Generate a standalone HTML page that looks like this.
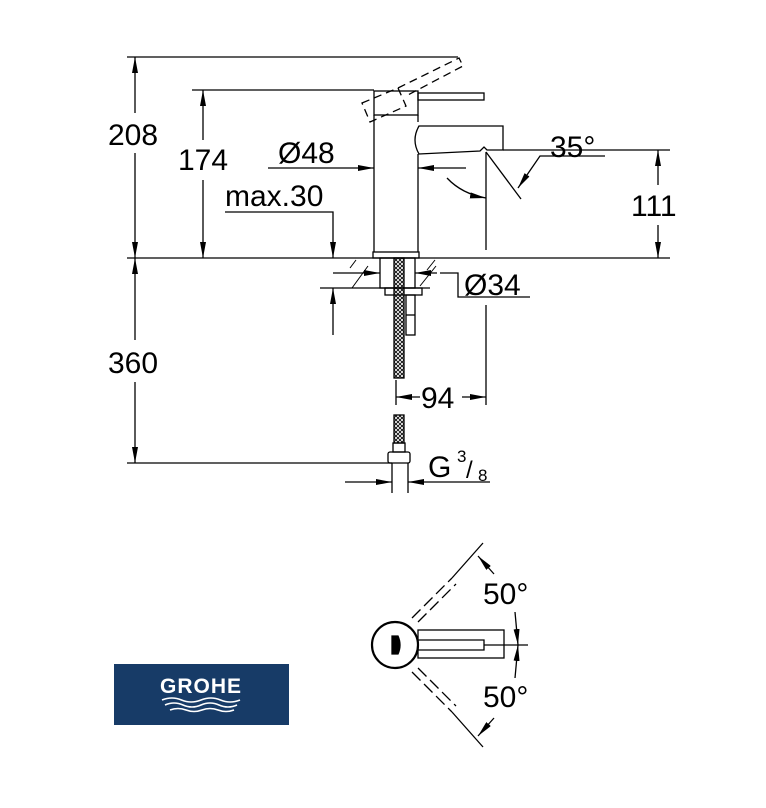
<!DOCTYPE html>
<html><head><meta charset="utf-8"><style>
html,body{margin:0;padding:0;background:#fff;}
svg{display:block;}
text{font-family:"Liberation Sans",sans-serif;fill:#000;}
</style></head><body>
<svg width="766" height="808" viewBox="0 0 766 808" xmlns="http://www.w3.org/2000/svg">
<defs>
<marker id="a" viewBox="0 0 16 6" refX="16" refY="3" markerWidth="16" markerHeight="6" markerUnits="userSpaceOnUse" orient="auto-start-reverse"><path d="M0,0 L16,3 L0,6 z" fill="#000"/></marker>
<pattern id="x" width="4" height="4" patternUnits="userSpaceOnUse"><path d="M0,0L4,4M4,0L0,4" stroke="#000" stroke-width="0.8"/></pattern>
</defs>
<g stroke="#000" stroke-width="1.3" fill="none">
<line x1="127" y1="57" x2="458" y2="57"/>
<line x1="192" y1="90" x2="374" y2="90"/>
<line x1="127" y1="258" x2="670" y2="258"/>
<line x1="127" y1="463" x2="392" y2="463"/>
<line x1="320" y1="288" x2="430" y2="288"/>
<line x1="135" y1="57" x2="135" y2="113" marker-start="url(#a)"/>
<line x1="135" y1="153" x2="135" y2="258" marker-end="url(#a)"/>
<line x1="203" y1="90" x2="203" y2="140" marker-start="url(#a)"/>
<line x1="203" y1="180" x2="203" y2="258" marker-end="url(#a)"/>
<line x1="135" y1="258" x2="135" y2="340" marker-start="url(#a)"/>
<line x1="135" y1="382" x2="135" y2="463" marker-end="url(#a)"/>
<polyline points="225,212 333,212 333,258" marker-end="url(#a)"/>
<line x1="333" y1="335" x2="333" y2="288" marker-end="url(#a)"/>
<line x1="268" y1="168" x2="374" y2="168" marker-end="url(#a)"/>
<line x1="466" y1="168" x2="418" y2="168" marker-end="url(#a)"/>
<rect x="374" y="91" width="44" height="24"/>
<rect x="418" y="93" width="66" height="7"/>
<line x1="374" y1="115" x2="374" y2="252"/>
<line x1="418" y1="115" x2="418" y2="122"/>
<line x1="418" y1="154" x2="418" y2="252"/>
<rect x="373" y="252" width="46" height="6"/>
<path d="M419,126 L503,126 L503,150 L487,150 L484,147 L480,151 L419,154 Q411,140 419,126 Z"/>
<g stroke-dasharray="8,5">
<path d="M362,103 L398,88 L406,106 L370,122 Z"/>
<path d="M398,88 L459,58 L463,66 L406,96"/>
</g>
<line x1="486" y1="152" x2="486" y2="250"/>
<line x1="503" y1="150" x2="670" y2="150"/>
<line x1="486" y1="152" x2="521" y2="199"/>
<path d="M447,178 Q462,194 486,198" marker-end="url(#a)"/>
<polyline points="605,156 540,156 518,188" marker-end="url(#a)"/>
<line x1="658" y1="150" x2="658" y2="185" marker-start="url(#a)"/>
<line x1="658" y1="225" x2="658" y2="258" marker-end="url(#a)"/>
<rect x="380" y="258" width="35" height="30"/>
<rect x="385" y="288" width="37" height="7"/>
<rect x="394" y="258" width="10" height="120" fill="url(#x)"/>
<rect x="406" y="295" width="9" height="40"/>
<line x1="406" y1="315" x2="415" y2="315"/>
<g stroke-width="1">
<line x1="350" y1="268" x2="356" y2="260"/><line x1="352" y1="288" x2="368" y2="266"/>
<line x1="427" y1="270" x2="435" y2="260"/><line x1="420" y1="286" x2="436" y2="266"/>
</g>
<line x1="333" y1="273" x2="380" y2="273" marker-end="url(#a)"/>
<line x1="437" y1="273" x2="415" y2="273" marker-end="url(#a)"/>
<polyline points="440,273 458,273 458,297 530,297"/>
<line x1="486" y1="305" x2="486" y2="405"/>
<line x1="396" y1="380" x2="396" y2="405"/>
<line x1="420" y1="397" x2="396" y2="397" marker-end="url(#a)"/>
<line x1="462" y1="397" x2="486" y2="397" marker-end="url(#a)"/>
<rect x="394" y="415" width="10" height="28" fill="url(#x)"/>
<rect x="393" y="443" width="12" height="9"/>
<rect x="388" y="452" width="22" height="11" rx="2"/>
<line x1="392" y1="463" x2="392" y2="493"/>
<line x1="408" y1="463" x2="408" y2="493"/>
<line x1="345" y1="482" x2="392" y2="482" marker-end="url(#a)"/>
<line x1="490" y1="482" x2="408" y2="482" marker-end="url(#a)"/>
<circle cx="395" cy="645" r="23" stroke-width="2.2"/>
<path d="M392,636 L398,636 Q402,645 398,654 L392,654 Z" fill="#000"/>
<rect x="418" y="630" width="86" height="28"/>
<path d="M418,640 L484,640 L484,650 L418,650"/>
<line x1="484" y1="645" x2="528" y2="645"/>
<g stroke-dasharray="12,5">
<line x1="412" y1="618" x2="452" y2="578"/>
<line x1="418" y1="622" x2="456" y2="584"/>
<line x1="412" y1="672" x2="452" y2="712"/>
<line x1="418" y1="668" x2="456" y2="706"/>
</g>
<line x1="452" y1="578" x2="483" y2="543"/>
<line x1="452" y1="712" x2="483" y2="747"/>
<line x1="494" y1="574" x2="478" y2="556" marker-end="url(#a)"/>
<line x1="494" y1="718" x2="478" y2="736" marker-end="url(#a)"/>
<line x1="515" y1="612" x2="518" y2="645" marker-end="url(#a)"/>
<line x1="515" y1="678" x2="518" y2="645" marker-end="url(#a)"/>
</g>
<g font-size="30">
<text x="108" y="145">208</text>
<text x="178" y="170">174</text>
<text x="278" y="163">Ø48</text>
<text x="225" y="206">max.30</text>
<text x="550" y="157">35°</text>
<text x="631" y="216">111</text>
<text x="464" y="295">Ø34</text>
<text x="108" y="373">360</text>
<text x="421" y="408">94</text>
<text x="428" y="477">G</text>
<text x="483" y="604">50°</text>
<text x="483" y="707">50°</text>
</g>
<text x="457" y="462" font-size="17">3</text>
<text x="466" y="478" font-size="24">/</text>
<text x="478" y="481" font-size="17">8</text>
<rect x="114" y="664" width="175" height="61" fill="#173b67"/>
<text x="201" y="693" font-size="21" font-weight="bold" letter-spacing="1" text-anchor="middle" style="fill:#fff">GROHE</text>
<g stroke="#fff" stroke-width="1.6" fill="none">
<path d="M162,700 q10,-4 19.5,0 t19.5,0 t19.5,0 t19.5,0"/>
<path d="M165,705 q9,-4 18,0 t18,0 t18,0 t18,0"/>
<path d="M170,710 q8,-3 16,0 t16,0 t16,0 t16,0"/>
</g>
</svg>
</body></html>
